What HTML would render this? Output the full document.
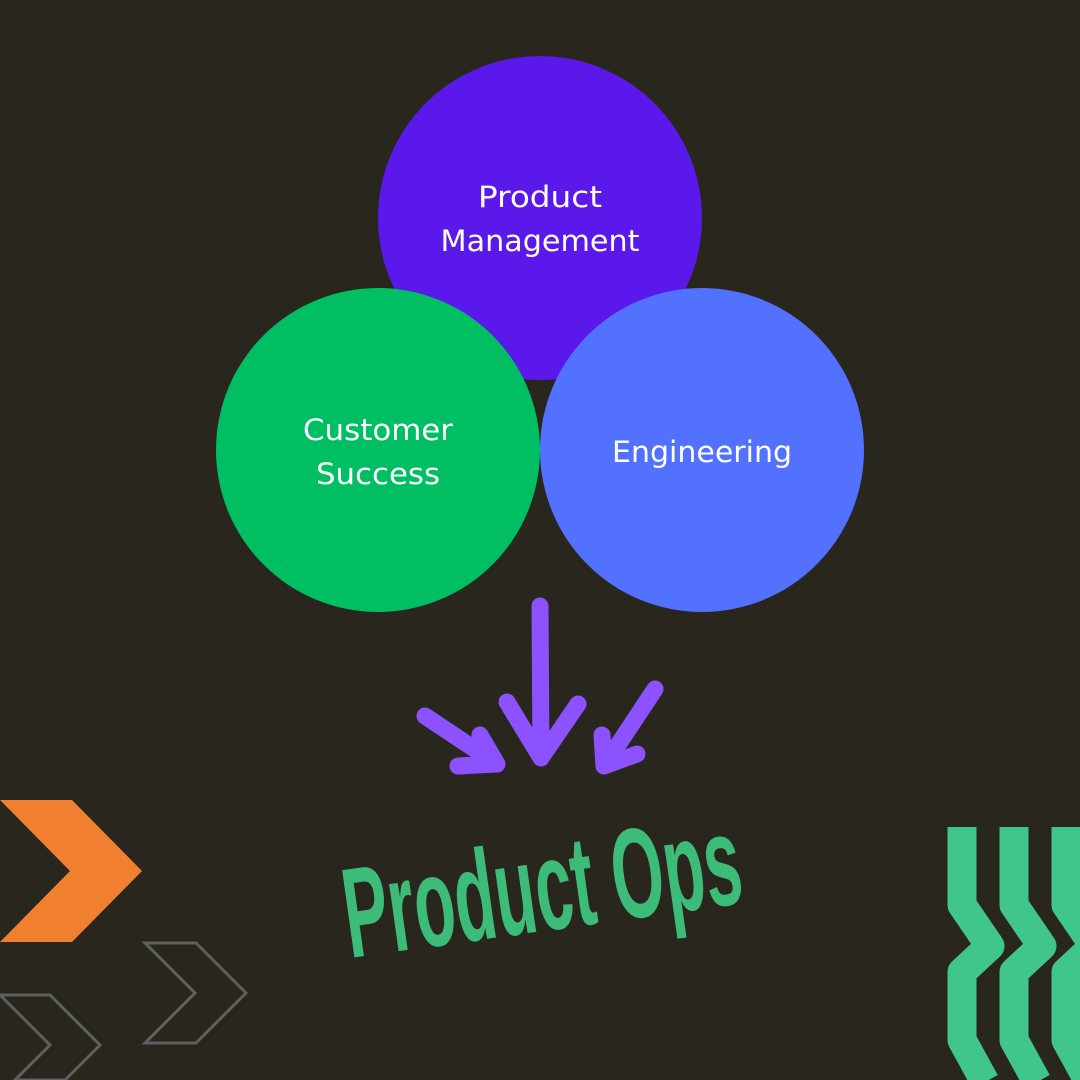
<!DOCTYPE html>
<html><head><style>body{margin:0;background:#29261d}</style></head><body>
<svg width="1080" height="1080" viewBox="0 0 1080 1080" xmlns="http://www.w3.org/2000/svg" style="display:block">
<rect width="1080" height="1080" fill="#29261d"/>
<circle cx="540" cy="218" r="162" fill="#5b18ea"/>
<circle cx="378" cy="450" r="162" fill="#00bf63"/>
<circle cx="702" cy="450" r="162" fill="#5271ff"/>
<g font-family="DejaVu Sans, sans-serif" font-size="29" fill="#fff" text-anchor="middle" lengthAdjust="spacingAndGlyphs">
<text x="540" y="207" textLength="124" lengthAdjust="spacingAndGlyphs">Product</text>
<text x="540" y="251" textLength="199" lengthAdjust="spacingAndGlyphs">Management</text>
<text x="378" y="440" textLength="150" lengthAdjust="spacingAndGlyphs">Customer</text>
<text x="378" y="484" textLength="124" lengthAdjust="spacingAndGlyphs">Success</text>
<text x="702" y="462" textLength="180" lengthAdjust="spacingAndGlyphs">Engineering</text>
</g>
<g stroke="#8c52ff" stroke-width="17" fill="none" stroke-linecap="round" stroke-linejoin="round">
<path d="M540 606 L541 758 M507 702 L541 758 L578 704"/>
<path d="M425 716 L497 764 M480 735 L497 764 L458 766"/>
<path d="M655 689 L604 766 M602 735 L604 766 L637 754"/>
</g>
<text x="0" y="0" transform="translate(350,958) rotate(-8)" font-family="Liberation Sans, sans-serif" font-weight="bold" font-size="128" fill="#3dbb78" textLength="400" lengthAdjust="spacingAndGlyphs">Product Ops</text>
<polygon points="0,800 72,800 142,871 72,942 0,942 70,871" fill="#f08030"/>
<g stroke="#5f5f5f" stroke-width="3" fill="none">
<polygon points="145,943 196,943 246,993 196,1043 145,1043 195,993"/>
<polygon points="0,995 50,995 100,1045 65,1080 15,1080 50,1045 0,995"/>
</g>
<g stroke="#40c58a" stroke-width="29" fill="none" stroke-linejoin="round">
<path d="M962 827 L962 905 L990 946 L962 972 L962 1040 L985 1082"/>
<path d="M1014 827 L1014 905 L1042 946 L1014 972 L1014 1040 L1037 1082"/>
<path d="M1066 827 L1066 905 L1094 946 L1066 972 L1066 1040 L1089 1082"/>
</g>
</svg>
</body></html>
